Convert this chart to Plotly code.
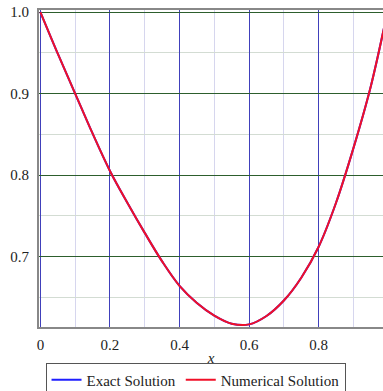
import plotly.graph_objects as go

x_vals = [0.0, 0.05, 0.1, 0.15, 0.2, 0.25, 0.3, 0.35, 0.4, 0.45, 0.5,
          0.55, 0.6, 0.65, 0.7, 0.75, 0.8, 0.85, 0.9, 0.95, 1.0]
exact_y = [1.000, 0.949, 0.900, 0.851, 0.805, 0.766, 0.729, 0.694, 0.664, 0.643, 0.6275,
           0.6176, 0.6167, 0.627, 0.646, 0.674, 0.712, 0.766, 0.833, 0.909, 1.005]
numerical_y = [1.000, 0.949, 0.900, 0.851, 0.805, 0.766, 0.729, 0.694, 0.664, 0.643, 0.6275,
               0.6176, 0.6167, 0.627, 0.646, 0.674, 0.712, 0.766, 0.833, 0.909, 1.005]

x_ticks = [0, 0.2, 0.4, 0.6, 0.8]
x_tick_labels = ["0", "0.2", "0.4", "0.6", "0.8"]
y_ticks = [0.7, 0.8, 0.9, 1.0]
y_tick_labels = ["0.7", "0.8", "0.9", "1.0"]

serif = "Liberation Serif, Times New Roman, serif"

fig = go.Figure()
fig.add_trace(go.Scatter(x=x_vals, y=exact_y, mode="lines", name="Exact Solution",
                         line=dict(color="#1f1fff", width=2, shape="spline")))
fig.add_trace(go.Scatter(x=x_vals, y=numerical_y, mode="lines", name="Numerical Solution",
                         line=dict(color="#f01028", width=2, shape="spline")))

fig.update_layout(
    width=383, height=391,
    margin=dict(l=39, r=0, t=10, b=64, autoexpand=False),
    paper_bgcolor="white", plot_bgcolor="white",
    font=dict(family=serif, size=15, color="#222"),
    showlegend=True,
    legend=dict(orientation="h", x=0.455, xanchor="center", y=-0.112, yanchor="top",
                bordercolor="#555", borderwidth=1, font=dict(family=serif, size=15, color="#222"),
                itemwidth=30, tracegroupgap=0),
    xaxis=dict(range=[-0.004, 0.985], tickvals=x_ticks, ticktext=x_tick_labels,
               showgrid=True, gridcolor="#4040bb", gridwidth=1,
               minor=dict(dtick=0.1, tick0=0, showgrid=True, gridcolor="#d6d6ee", gridwidth=1),
               showline=True, linecolor="#888", linewidth=2, mirror=True,
               zeroline=False, ticks="", ticklabelstandoff=3,
               tickfont=dict(family=serif, size=15, color="#222"),
               title=dict(text="<i>x</i>", font=dict(family=serif, size=15), standoff=0)),
    yaxis=dict(range=[0.6135, 1.0025], tickvals=y_ticks, ticktext=y_tick_labels,
               showgrid=True, gridcolor="#2d5e2d", gridwidth=1,
               minor=dict(dtick=0.05, tick0=0.6, showgrid=True, gridcolor="#d3dcd3", gridwidth=1),
               showline=True, linecolor="#888", linewidth=2, mirror=False,
               zeroline=False, ticks="", ticklabelstandoff=5,
               tickfont=dict(family=serif, size=15, color="#222")),
)

fig.write_html("out.html")
